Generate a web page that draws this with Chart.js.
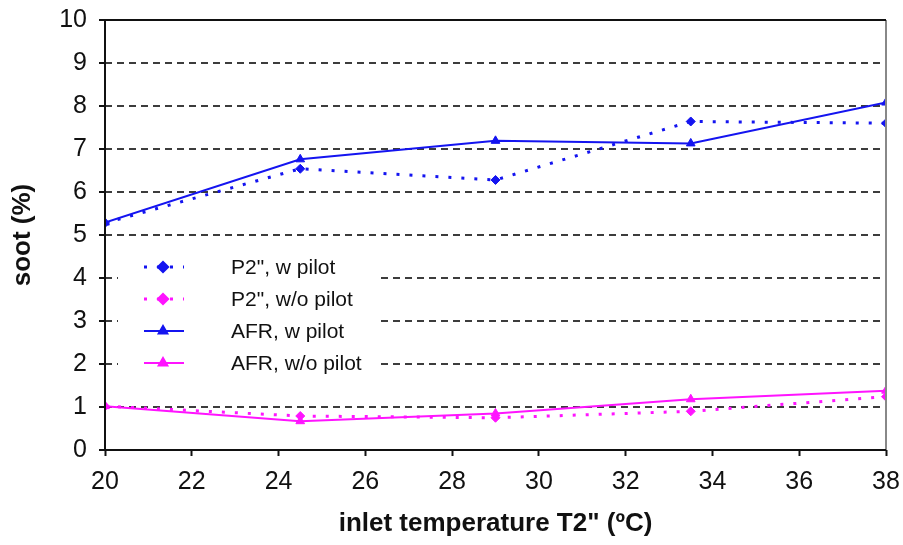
<!DOCTYPE html>
<html>
<head>
<meta charset="utf-8">
<script src="https://cdn.jsdelivr.net/npm/chart.js@4/dist/chart.umd.min.js"></script>
<style>
  html, body { margin: 0; padding: 0; background: #fff; }
  #wrap { width: 903px; height: 545px; }
</style>
</head>
<body>
<div id="wrap"><canvas id="c"></canvas></div>
<script>
// inlet temperature T2'' (ºC)
const temps = [20, 24.5, 29, 33.5, 38];
// soot (%)
const p2WithPilot = [5.28, 6.54, 6.28, 7.64, 7.6];
const p2NoPilot = [1.02, 0.79, 0.75, 0.9, 1.24];
const afrWithPilot = [5.29, 6.76, 7.19, 7.13, 8.08];
const afrNoPilot = [1.02, 0.67, 0.85, 1.18, 1.38];
const seriesLabels = ['P2", w pilot', 'P2", w/o pilot', 'AFR, w pilot', 'AFR, w/o pilot'];

const BLUE = '#1414f0';
const MAGENTA = '#ff14ff';
const FONT = 'Arial, "Liberation Sans", sans-serif';

function pts(ys) {
    return temps.map((t, i) => ({ x: t, y: ys[i] }));
}

function serie(label, ys, color, dotted, style) {
    return {
        label: label,
        data: pts(ys),
        borderColor: color,
        backgroundColor: color,
        borderWidth: dotted ? 3 : 2,
        borderDash: dotted ? [3, 10] : [],
        borderCapStyle: 'butt',
        pointStyle: style,
        pointRadius: style === 'triangle' ? 5 : 4.5,
        pointBorderWidth: 1,
        tension: 0
    };
}

// legenda disegnata a mano dentro l'area del grafico
const boxLegend = {
    id: 'boxLegend',
    afterDatasetsDraw(chart) {
        const ctx = chart.ctx;
        ctx.save();
        ctx.fillStyle = '#fff';
        ctx.fillRect(118, 250, 260, 130);
        const rows = [267, 299, 331, 363];
        chart.data.datasets.forEach((ds, i) => {
            const y = rows[i];
            ctx.strokeStyle = ds.borderColor;
            ctx.lineWidth = ds.borderWidth;
            ctx.lineCap = 'butt';
            ctx.setLineDash(ds.borderDash);
            ctx.beginPath();
            ctx.moveTo(144, y);
            ctx.lineTo(184, y);
            ctx.stroke();
            ctx.setLineDash([]);
            Chart.helpers.drawPoint(ctx, {
                pointStyle: ds.pointStyle,
                radius: ds.pointRadius,
                borderWidth: 1
            }, 163, y);
            ctx.fillStyle = ds.borderColor;
            ctx.fill();
            ctx.fillStyle = '#111';
            ctx.font = '21px ' + FONT;
            ctx.textBaseline = 'middle';
            ctx.fillText(ds.label, 231, y + 1);
        });
        ctx.restore();
    },
    afterDraw(chart) {
        // cornice del grafico
        const a = chart.chartArea;
        const ctx = chart.ctx;
        ctx.save();
        ctx.lineWidth = 2;
        ctx.strokeStyle = '#888';
        ctx.beginPath();
        ctx.moveTo(a.right, a.top);
        ctx.lineTo(a.right, a.bottom);
        ctx.stroke();
        ctx.strokeStyle = '#111';
        ctx.beginPath();
        ctx.moveTo(a.right, a.top);
        ctx.lineTo(a.left, a.top);
        ctx.lineTo(a.left, a.bottom);
        ctx.lineTo(a.right, a.bottom);
        ctx.stroke();
        ctx.restore();
    }
};

new Chart(document.getElementById('c'), {
    type: 'line',
    data: {
        datasets: [
            serie(seriesLabels[0], p2WithPilot, BLUE, true, 'rectRot'),
            serie(seriesLabels[1], p2NoPilot, MAGENTA, true, 'rectRot'),
            serie(seriesLabels[2], afrWithPilot, BLUE, false, 'triangle'),
            serie(seriesLabels[3], afrNoPilot, MAGENTA, false, 'triangle')
        ]
    },
    options: {
        responsive: true,
        maintainAspectRatio: false,
        animation: false,
        layout: { padding: { top: 20, right: 17, left: 0, bottom: 0 } },
        plugins: {
            legend: { display: false },
            tooltip: { enabled: false }
        },
        scales: {
            x: {
                type: 'linear',
                min: 20,
                max: 38,
                afterFit(scale) {
                    scale.height = 95;
                    scale.paddingLeft = 0;
                    scale.paddingRight = 0;
                },
                ticks: {
                    stepSize: 2,
                    color: '#111',
                    font: { family: FONT, size: 25 },
                    padding: 11,
                    maxRotation: 0
                },
                grid: {
                    drawOnChartArea: false,
                    drawTicks: true,
                    tickLength: 6,
                    tickColor: '#111',
                    tickWidth: 2,
                    tickBorderDash: []
                },
                border: { display: false },
                title: {
                    display: true,
                    text: 'inlet temperature T2" (ºC)',
                    color: '#111',
                    font: { family: FONT, size: 26, weight: 'bold' },
                    padding: { top: 0, bottom: 6 }
                }
            },
            y: {
                min: 0,
                max: 10,
                afterFit(scale) {
                    scale.width = 105;
                    scale.paddingTop = 0;
                    scale.paddingBottom = 0;
                },
                ticks: {
                    stepSize: 1,
                    color: '#111',
                    font: { family: FONT, size: 25 },
                    padding: 12
                },
                grid: {
                    color: '#3c3c3c',
                    lineWidth: 2,
                    tickLength: 6,
                    tickColor: '#111',
                    tickWidth: 2,
                    tickBorderDash: []
                },
                border: { display: false, dash: [7, 5] },
                title: {
                    display: true,
                    text: 'soot (%)',
                    color: '#111',
                    font: { family: FONT, size: 26, weight: 'bold' },
                    padding: { top: 7, bottom: 0 }
                }
            }
        }
    },
    plugins: [boxLegend]
});
</script>
</body>
</html>
